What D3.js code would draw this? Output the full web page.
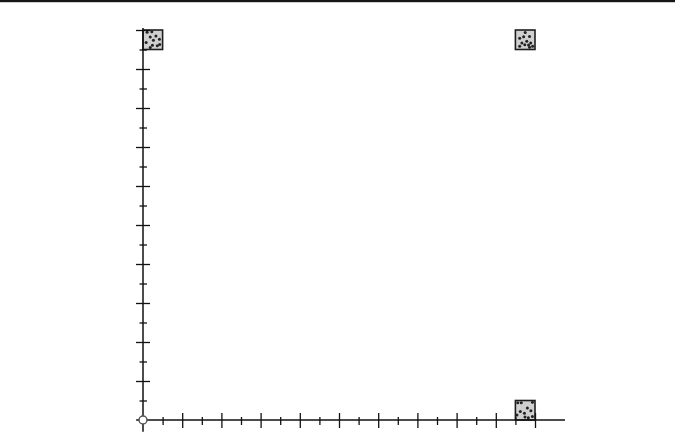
<!DOCTYPE html>
<html><head><meta charset="utf-8">
<script src="https://cdn.jsdelivr.net/npm/d3@7"></script>
<style>html,body{margin:0;padding:0;background:#fff;}svg{display:block;}</style>
</head><body>
<script>
// data
const xMajor = [2,4,6,8,10,12,14,16,18,20];
const xMinor = [1,3,5,7,9,11,13,15,17,19];
const yMajor = [2,4,6,8,10,12,14,16,18,20];
const yMinor = [1,3,5,7,9,11,13,15,17,19];
const cells = [ {cx:0, cy:19}, {cx:19, cy:19}, {cx:19, cy:0} ];
const dotsTopLeft = [[0.21,0.12],[0.45,0.09],[0.37,0.36],[0.66,0.31],[0.84,0.47],[0.53,0.52],[0.16,0.64],[0.48,0.78],[0.73,0.81],[0.85,0.74],[0.37,0.9]];
const dotsTopRight = [[0.5,0.13],[0.22,0.42],[0.42,0.35],[0.72,0.33],[0.58,0.58],[0.33,0.67],[0.22,0.83],[0.48,0.75],[0.67,0.77],[0.78,0.67],[0.88,0.83],[0.72,0.88]];
const dotsBottomRight = [[0.12,0.12],[0.3,0.12],[0.87,0.09],[0.61,0.39],[0.25,0.56],[0.46,0.65],[0.79,0.53],[0.08,0.74],[0.49,0.84],[0.66,0.88],[0.87,0.82]];
const cellDots = [dotsTopLeft, dotsTopRight, dotsBottomRight];

const W = 675, H = 447;
const svg = d3.select("body").append("svg").attr("width", W).attr("height", H);

svg.append("rect").attr("x",0).attr("y",0).attr("width",W).attr("height",2.2).attr("fill","#151515");

const x = d3.scaleLinear().domain([0,20]).range([143,535]);
const y = d3.scaleLinear().domain([0,20]).range([420,30]);

// cells
cells.forEach((c,i)=>{
  const g = svg.append("g");
  const x0 = x(c.cx), x1 = x(c.cx+1), y0 = y(c.cy+1), y1 = y(c.cy);
  g.append("rect").attr("x",x0).attr("y",y0).attr("width",x1-x0).attr("height",y1-y0)
    .attr("fill","#d0d0d0").attr("stroke","#1e1e1e").attr("stroke-width",1.6);
  g.selectAll("circle").data(cellDots[i]).join("circle")
    .attr("cx",d=>x0+d[0]*(x1-x0)).attr("cy",d=>y0+d[1]*(y1-y0)).attr("r",1.5).attr("fill","#222");
});

// axes lines
svg.append("line").attr("x1",x(-0.35)).attr("x2",x(21.53)).attr("y1",y(0)).attr("y2",y(0))
  .attr("stroke","#111").attr("stroke-width",1.5);
svg.append("line").attr("x1",x(0)).attr("x2",x(0)).attr("y1",y(-0.6)).attr("y2",y(20.1))
  .attr("stroke","#111").attr("stroke-width",1.5);

function styleTicks(g, a, b, vertical){
  g.select(".domain").remove();
  g.selectAll("text").remove();
  g.selectAll(".tick line").attr("stroke","#111").attr("stroke-width",1.3)
    .each(function(){
      const l = d3.select(this);
      if (vertical) l.attr("x1",a).attr("x2",b).attr("y1",0).attr("y2",0);
      else l.attr("y1",a).attr("y2",b).attr("x1",0).attr("x2",0);
    });
}
const gxM = svg.append("g").attr("transform",`translate(0,${y(0)})`).call(d3.axisBottom(x).tickValues(xMajor));
styleTicks(gxM,-7,8,false);
const gxm = svg.append("g").attr("transform",`translate(0,${y(0)})`).call(d3.axisBottom(x).tickValues(xMinor));
styleTicks(gxm,-3,5,false);
const gyM = svg.append("g").attr("transform",`translate(${x(0)},0)`).call(d3.axisLeft(y).tickValues(yMajor));
styleTicks(gyM,-7,7,true);
const gym = svg.append("g").attr("transform",`translate(${x(0)},0)`).call(d3.axisLeft(y).tickValues(yMinor));
styleTicks(gym,-3.5,4,true);

svg.append("circle").attr("cx",x(0)).attr("cy",y(0)).attr("r",4)
  .attr("fill","#fff").attr("stroke","#555").attr("stroke-width",1.5);
</script>
</body></html>
